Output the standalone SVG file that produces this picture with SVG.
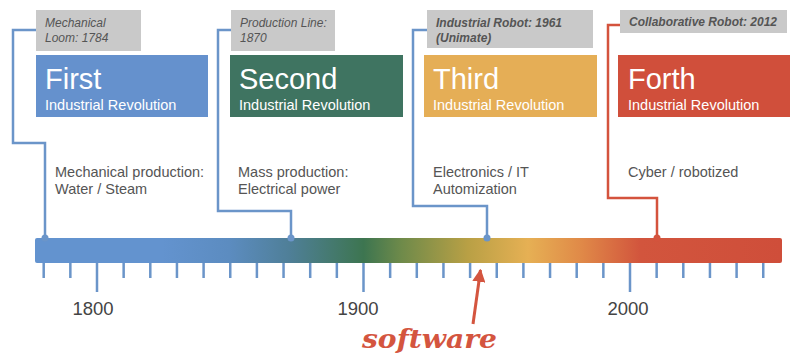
<svg xmlns="http://www.w3.org/2000/svg" width="792" height="358" viewBox="0 0 792 358">
<style>
.lbl{fill:#c9c9c9}
.lt{font-family:"Liberation Sans",Arial,sans-serif;font-size:12px;font-style:italic;fill:#555}
.lt.b{font-weight:bold}
.title{font-family:"Liberation Sans",Arial,sans-serif;font-size:29px;fill:#fff}
.sub{font-family:"Liberation Sans",Arial,sans-serif;font-size:14.5px;fill:#fff}
.desc{font-family:"Liberation Sans",Arial,sans-serif;font-size:14.5px;fill:#555}
.year{font-family:"Liberation Sans",Arial,sans-serif;font-size:18.5px;fill:#444;text-anchor:middle}
.conn{fill:none;stroke-width:2.5;stroke-linejoin:miter}
.blue{stroke:#6b95c9}
.red{stroke:#d4533d}
.dotb{fill:#6b95c9}
.dotr{fill:#d4533d}
.tick{fill:none;stroke:#6b95c9;stroke-width:2.5}
</style>
<defs>
<linearGradient id="tl" x1="35" y1="0" x2="782" y2="0" gradientUnits="userSpaceOnUse">
<stop offset="0" stop-color="#6393cf"/>
<stop offset="0.17" stop-color="#6393cf"/>
<stop offset="0.26" stop-color="#5c8cc0"/>
<stop offset="0.34" stop-color="#4f7f98"/>
<stop offset="0.44" stop-color="#3d7550"/>
<stop offset="0.49" stop-color="#6e8a4a"/>
<stop offset="0.58" stop-color="#b9a045"/>
<stop offset="0.66" stop-color="#e6b054"/>
<stop offset="0.73" stop-color="#e08a48"/>
<stop offset="0.81" stop-color="#d2553d"/>
<stop offset="1" stop-color="#cf4e3a"/>
</linearGradient>
<marker id="ah" viewBox="0 0 10 10" refX="9" refY="5" markerWidth="4.4" markerHeight="4.4" markerUnits="strokeWidth" orient="auto">
<path d="M0,0 L10,5 L0,10 Z" fill="#d4553f"/>
</marker>
</defs>
<rect width="792" height="358" fill="#fff"/>

<g id="connectors">
<path class="conn blue" d="M36,30 H13 V143 H45 V238"/>
<path class="conn blue" d="M231,30 H218 V211 H291 V238"/>
<path class="conn blue" d="M427,30 H413 V206 H487 V238"/>
<path class="conn red" d="M620,25 H608 V198 H657 V238"/>
</g>

<g id="first">
<rect class="lbl" x="36" y="10" width="105" height="41"/>
<text class="lt" x="45" y="27">Mechanical</text>
<text class="lt" x="45" y="42">Loom: 1784</text>
<rect x="36" y="55" width="172" height="62" fill="#6591cd"/>
<text class="title" x="45" y="89">First</text>
<text class="sub" x="45" y="110">Industrial Revolution</text>
<text class="desc" x="55" y="177">Mechanical production:</text>
<text class="desc" x="55" y="194">Water / Steam</text>
</g>

<g id="second">
<rect class="lbl" x="231" y="10" width="104" height="41"/>
<text class="lt" x="240" y="27">Production Line:</text>
<text class="lt" x="240" y="42">1870</text>
<rect x="230" y="55" width="173" height="62" fill="#3f7461"/>
<text class="title" x="239" y="89">Second</text>
<text class="sub" x="239" y="110">Industrial Revolution</text>
<text class="desc" x="238" y="177">Mass production:</text>
<text class="desc" x="238" y="194">Electrical power</text>
</g>

<g id="third">
<rect class="lbl" x="427" y="10" width="166" height="38"/>
<text class="lt b" x="436" y="27">Industrial Robot: 1961</text>
<text class="lt b" x="436" y="42">(Unimate)</text>
<rect x="424" y="55" width="173" height="62" fill="#e5ae56"/>
<text class="title" x="433" y="89">Third</text>
<text class="sub" x="433" y="110">Industrial Revolution</text>
<text class="desc" x="433" y="177">Electronics / IT</text>
<text class="desc" x="433" y="194">Automization</text>
</g>

<g id="forth">
<rect class="lbl" x="620" y="10" width="167" height="23"/>
<text class="lt b" x="629" y="26">Collaborative Robot: 2012</text>
<rect x="618" y="55" width="172" height="62" fill="#d04f3b"/>
<text class="title" x="628" y="89">Forth</text>
<text class="sub" x="628" y="110">Industrial Revolution</text>
<text class="desc" x="628" y="177">Cyber / robotized</text>
</g>

<g id="timeline">
<rect x="35" y="238" width="747" height="25" rx="2" fill="url(#tl)"/>
<path class="tick" d="M43.7,263V278 M70.35,263V278 M97,263V292 M123.65,263V278 M150.3,263V278 M176.95,263V278 M203.6,263V278 M230.25,263V278 M256.9,263V278 M283.55,263V278 M310.2,263V278 M336.85,263V278 M363.5,263V292 M390.15,263V278 M416.8,263V278 M443.45,263V278 M470.1,263V278 M496.75,263V278 M523.4,263V278 M550.05,263V278 M576.7,263V278 M603.35,263V278 M630,263V292 M656.65,263V278 M683.3,263V278 M709.95,263V278 M736.6,263V278 M763.25,263V278"/>
<circle class="dotb" cx="45" cy="238" r="3.5"/>
<circle class="dotb" cx="291" cy="238" r="3.5"/>
<circle class="dotb" cx="487" cy="238" r="3.5"/>
<circle class="dotr" cx="657" cy="238" r="3.5"/>
<text class="year" x="93" y="315">1800</text>
<text class="year" x="358" y="315">1900</text>
<text class="year" x="628" y="315">2000</text>
</g>

<g id="software">
<path d="M473,324 L480.5,270" fill="none" stroke="#d4553f" stroke-width="3" marker-end="url(#ah)"/>
<text x="362" y="348" font-family="'DejaVu Serif',serif" font-size="26" font-weight="bold" font-style="italic" fill="#d4553f" textLength="135" lengthAdjust="spacingAndGlyphs">software</text>
</g>
</svg>
